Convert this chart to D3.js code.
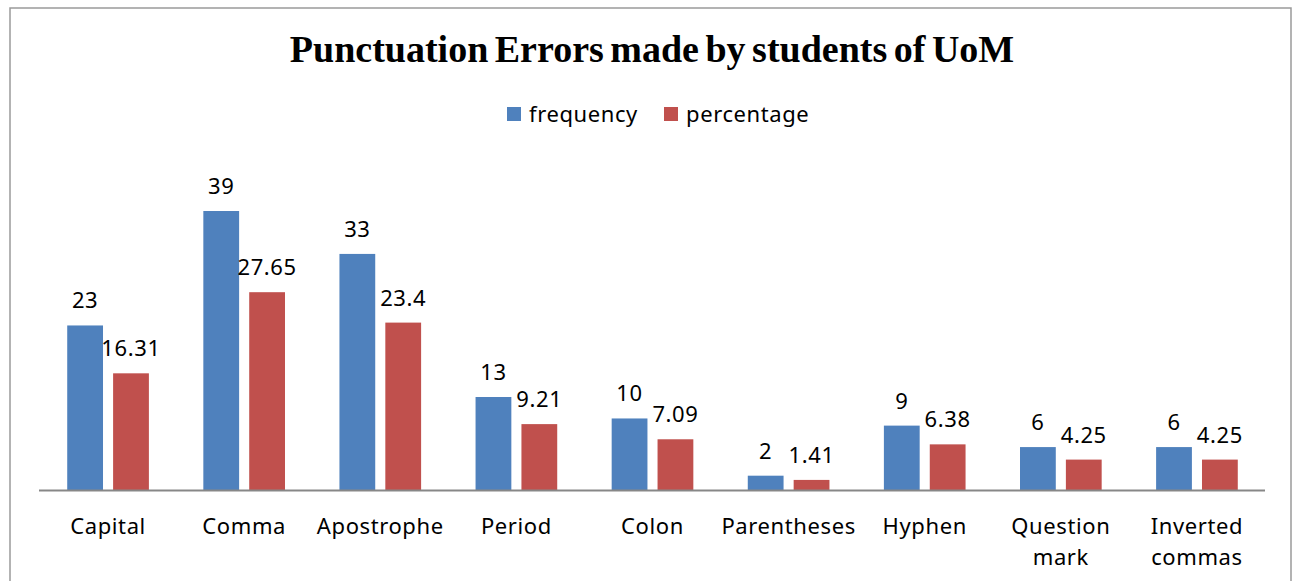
<!doctype html>
<html lang="en">
  <head>
    <meta charset="UTF-8"/>
    <title>Punctuation Errors</title>
    <script src="https://cdnjs.cloudflare.com/ajax/libs/d3/7.8.5/d3.min.js"></script>
    <style>
      body { margin: 0; background: #fff; }
      svg text { font-family: "Noto Sans", sans-serif; fill: #000; letter-spacing: 0.6px; }
    </style>
  </head>
  <body>
    <svg id="chart" width="1300" height="581"></svg>
    <script>
      // data
      var categories = ["Capital", "Comma", "Apostrophe", "Period", "Colon",
                        "Parentheses", "Hyphen", "Question mark", "Inverted commas"];
      var frequency  = [23, 39, 33, 13, 10, 2, 9, 6, 6];
      var percentage = [16.31, 27.65, 23.4, 9.21, 7.09, 1.41, 6.38, 4.25, 4.25];
      var seriesNames = ["frequency", "percentage"];
      var colors = ["#4f81bd", "#c0504d"];

      var svg = d3.select("#chart");

      // frame round the chart area (bottom is cut off in the picture)
      svg.append("path")
        .attr("d", "M10,600 V8 H1291 V600")
        .attr("fill", "none")
        .attr("stroke", "#9a9a9a")
        .attr("stroke-width", 1.5);

      var margin = {left: 40, right: 35, baseline: 490};
      var x0 = d3.scaleBand()
        .domain(categories)
        .range([margin.left, 1300 - margin.right])
        .paddingInner(0.4)
        .paddingOuter(0.2);

      var x1 = d3.scaleBand()
        .domain(seriesNames)
        .range([0, x0.bandwidth()])
        .paddingInner(0.22);

      // 39 sits at y=211 with the baseline at 490
      var y = d3.scaleLinear()
        .domain([0, 39])
        .range([margin.baseline, 211]);

      var rows = categories.map(function(c, i) {
        return {cat: c, values: [
          {key: "frequency", value: frequency[i]},
          {key: "percentage", value: percentage[i]}
        ]};
      });

      var groups = svg.selectAll(".grp")
        .data(rows)
        .enter().append("g")
        .attr("class", "grp")
        .attr("transform", function(d) { return "translate(" + x0(d.cat) + ",0)"; });

      groups.selectAll("rect")
        .data(function(d) { return d.values; })
        .enter().append("rect")
        .attr("x", function(d) { return x1(d.key); })
        .attr("y", function(d) { return y(d.value); })
        .attr("width", x1.bandwidth())
        .attr("height", function(d) { return y(0) - y(d.value); })
        .attr("fill", function(d, i) { return colors[i]; });

      groups.selectAll(".val")
        .data(function(d) { return d.values; })
        .enter().append("text")
        .attr("class", "val")
        .attr("x", function(d) { return x1(d.key) + x1.bandwidth() / 2; })
        .attr("y", function(d) { return y(d.value) - 17; })
        .attr("text-anchor", "middle")
        .style("font-size", "22px")
        .text(function(d) { return d.value; });

      // baseline
      svg.append("line")
        .attr("x1", margin.left - 1).attr("x2", 1265)
        .attr("y1", margin.baseline + 0.5).attr("y2", margin.baseline + 0.5)
        .attr("stroke", "#878787")
        .attr("stroke-width", 2);

      // category labels, wrapped onto two lines when they have two words
      svg.selectAll(".cat")
        .data(categories)
        .enter().append("text")
        .attr("class", "cat")
        .attr("text-anchor", "middle")
        .style("font-size", "22px")
        .attr("transform", function(d) { return "translate(" + (x0(d) + x0.bandwidth() / 2) + ",534)"; })
        .selectAll("tspan")
        .data(function(d) { return d.split(" "); })
        .enter().append("tspan")
        .attr("x", 0)
        .attr("dy", function(d, i) { return i === 0 ? 0 : 31; })
        .text(function(d) { return d; });

      // title
      svg.append("text")
        .attr("x", 652)
        .attr("y", 62)
        .attr("text-anchor", "middle")
        .style("font-family", "'Liberation Serif', 'Times New Roman', serif")
        .style("font-weight", "bold")
        .style("font-size", "38px")
        .style("letter-spacing", "0px")
        .style("word-spacing", "-3px")
        .text("Punctuation Errors made by students of UoM");

      // legend
      var legendX = [507, 664];
      var legend = svg.selectAll(".leg")
        .data(seriesNames)
        .enter().append("g")
        .attr("class", "leg")
        .attr("transform", function(d, i) { return "translate(" + legendX[i] + ",107)"; });

      legend.append("rect")
        .attr("width", 14).attr("height", 14)
        .attr("fill", function(d, i) { return colors[i]; });

      legend.append("text")
        .attr("x", 22)
        .attr("y", 15)
        .style("font-size", "22px")
        .text(function(d) { return d; });
    </script>
  </body>
</html>
